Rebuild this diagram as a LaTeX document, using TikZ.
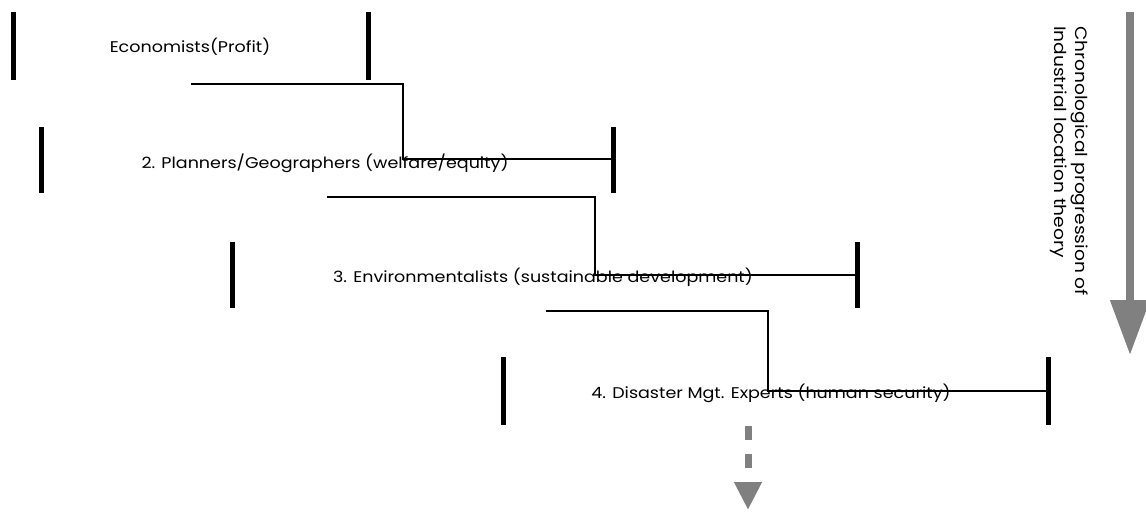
\documentclass[tikz,border=0pt]{standalone}
\usepackage{fontspec}
\setmainfont[FakeStretch=1.13]{Poppins}
\usetikzlibrary{arrows.meta}
\definecolor{arrgray}{HTML}{808080}
\tikzset{
  bar/.style={line width=5pt},
  conn/.style={line width=1.4pt},
  lbl/.style={font=\fontsize{15.5}{18}\selectfont, inner sep=0pt},
}
\begin{document}
\begin{tikzpicture}[x=1pt,y=-1pt]
\useasboundingbox (0,0) rectangle (1146,514);
% bracket 1
\draw[bar] (13,12) -- (13,80);
\draw[bar] (368,12) -- (368,80);
\node[lbl] (t1) at (190,47) {Economists(Profit)};
% bracket 2
\draw[bar] (41,127) -- (41,193);
\draw[bar] (613,127) -- (613,193);
\coordinate (r2) at (615,159);
\node[lbl] (t2) at (325,163) {2. Planners/Geographers (welfare/equity)};
% bracket 3
\draw[bar] (232,242) -- (232,308);
\draw[bar] (857,242) -- (857,308);
\coordinate (r3) at (859,275);
\node[lbl] (t3) at (543,277) {3. Environmentalists (sustainable development)};
% bracket 4
\draw[bar] (503,357) -- (503,425);
\draw[bar] (1048,357) -- (1048,425);
\coordinate (r4) at (1050,391);
\node[lbl] (t4) at (771,393) {4. Disaster Mgt. Experts (human security)};
% connectors
\coordinate (s1) at (191,84);
\coordinate (s2) at (327,197);
\coordinate (s3) at (546,311);
\draw[conn] (s1) -- (403,84) -- (403,159) -- (r2);
\draw[conn] (s2) -- (595,197) -- (595,275) -- (r3);
\draw[conn] (s3) -- (768,311) -- (768,391) -- (r4);
% dashed arrow
\coordinate (d0) at (748,426);
\coordinate (d1) at (748,510);
\draw[arrgray, line width=7pt, dash pattern=on 14pt off 14pt, -{Triangle[width=26pt,length=28pt]}] (d0) -- (d1);
% big arrow
\coordinate (a0) at (1130,12);
\coordinate (a1) at (1130,355);
\draw[arrgray, line width=8pt, -{Triangle[width=38pt,length=55pt]}] (a0) -- (a1);
\node[lbl, rotate=-90, anchor=north west, align=left, font=\fontsize{16.5}{21}\selectfont] (side) at (1088,26) {Chronological progression of\\Industrial location theory};
\end{tikzpicture}
\end{document}
